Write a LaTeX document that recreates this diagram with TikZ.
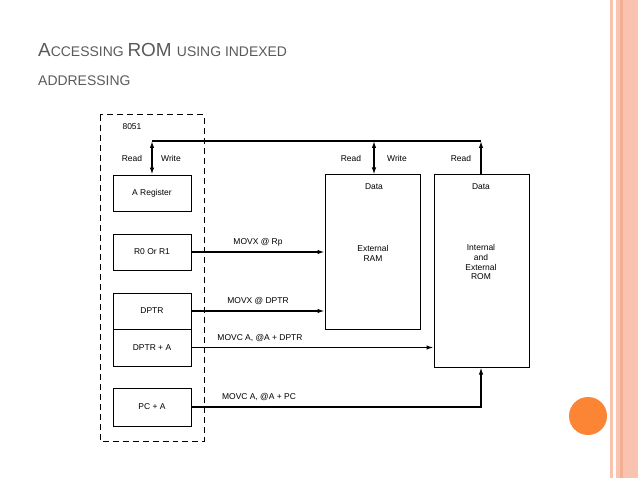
\documentclass[tikz,border=0pt]{standalone}
\usepackage{fontspec}
\setmainfont{Liberation Sans}
\usetikzlibrary{arrows.meta}
\definecolor{salmon}{HTML}{F9C3B0}
\definecolor{salmond}{HTML}{F3AE96}
\definecolor{orng}{HTML}{FC8535}
\definecolor{ttl}{HTML}{5A5A5A}
\begin{document}
\begin{tikzpicture}[x=1bp,y=-1bp,
  box/.style={draw,line width=1pt,inner sep=0,font=\fontsize{8.5}{10}\selectfont},
  lbl/.style={font=\fontsize{8.5}{10}\selectfont},
  ln/.style={line width=1.3pt},
  arr/.style={line width=1.3pt,-{Latex[length=7bp,width=4.5bp]}},
  darr/.style={line width=1.3pt,{Latex[length=7bp,width=4.5bp]}-{Latex[length=7bp,width=4.5bp]}}]
\useasboundingbox (0,0) rectangle (638,478);
% decorations
\fill[salmon] (610,0) rectangle (613,478);
\fill[salmon] (616,0) rectangle (638,478);
\fill[salmond] (620,0) rectangle (623,478);
\node[circle,fill=orng,minimum size=38bp,inner sep=0] (dot) at (588,416) {};
% title
\node[anchor=base west,text=ttl,inner sep=0] (t1) at (38,57) {\fontsize{19}{22}\selectfont A\fontsize{14}{16}\selectfont CCESSING \fontsize{19}{22}\selectfont ROM \fontsize{14}{16}\selectfont USING INDEXED};
\node[anchor=base west,text=ttl,inner sep=0] (t2) at (38,86) {\fontsize{14}{16}\selectfont ADDRESSING};
% dashed 8051
\draw[line width=1pt,dash pattern=on 6pt off 4pt] (100,115) rectangle (204,441);
\node[lbl] (c8051) at (132,127) {8051};
% boxes
\node[box,minimum width=78bp,minimum height=36bp] (areg) at (152,193) {A Register};
\node[box,minimum width=78bp,minimum height=36bp] (r0) at (152,252) {R0 Or R1};
\node[box,minimum width=78bp,minimum height=36bp] (dptr) at (152,311) {DPTR};
\node[box,minimum width=78bp,minimum height=37bp] (dptra) at (152,347.5) {DPTR + A};
\node[box,minimum width=78bp,minimum height=38bp] (pca) at (152,407) {PC + A};
\node[box,minimum width=95bp,minimum height=154bp] (ram) at (372.5,252) {};
\node[box,minimum width=95bp,minimum height=192bp] (rom) at (481.5,271) {};
\node[lbl] (d1) at (374,187) {Data};
\node[lbl] (d2) at (481,187) {Data};
\node[lbl,align=center] (ramt) at (373,253) {External\\RAM};
\node[lbl,align=center] (romt) at (481,262) {Internal\\and\\External\\ROM};
% bus
\coordinate (b1) at (152,141);
\coordinate (b2) at (374,141);
\coordinate (b3) at (481,141);
\draw[ln] (b1) -- (b3);
\draw[darr] (b1) -- (areg.north);
\draw[darr] (b2) -- (ram.north -| b2);
\draw[arr] (rom.north -| b3) -- (b3);
\node[lbl] (rd1) at (132,158) {Read};
\node[lbl] (wr1) at (171,158) {Write};
\node[lbl] (rd2) at (351,158) {Read};
\node[lbl] (wr2) at (397,158) {Write};
\node[lbl] (rd3) at (461,158) {Read};
% arrows
\draw[arr] (r0.east) -- (r0.east -| ram.west) node[lbl,midway,above=2bp] {MOVX @ Rp};
\draw[arr] (dptr.east) -- (dptr.east -| ram.west) node[lbl,midway,above=2bp] {MOVX @ DPTR};
\draw[arr] (dptra.east) -- (dptra.east -| rom.west);
\node[lbl] (l3) at (260,338) {MOVC A, @A + DPTR};
\coordinate (c4) at (481,407);
\draw[arr] (pca.east) -- (c4) -- (rom.south -| c4);
\node[lbl] (l4) at (259,397) {MOVC A, @A + PC};
\end{tikzpicture}
\end{document}
